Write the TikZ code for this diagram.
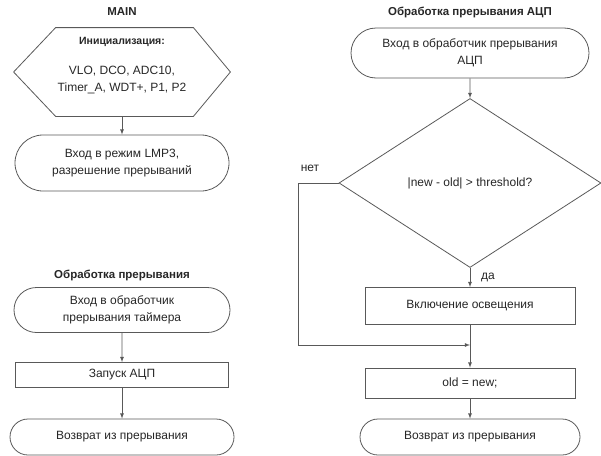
\documentclass[tikz,border=0pt]{standalone}
\usepackage{fontspec}
\setmainfont{Liberation Sans}
\usetikzlibrary{shapes.misc,shapes.geometric}

\def\lw{0.8pt}

\begin{document}
\begin{tikzpicture}[x=1pt,y=-1pt,>=latex,line width=\lw,
	every node/.style={font=\fontsize{12}{16.5}\selectfont,text=black!85,align=center},
	term/.style={rounded rectangle,draw=black!65,inner sep=1pt},
	box/.style={rectangle,draw=black!65,inner sep=1pt},
	titel/.style={font=\fontsize{11.5}{13}\selectfont\bfseries},
	pfeil/.style={->,draw=black!65}]
\useasboundingbox (0,0) rectangle (601,455);

% linke Spalte: MAIN
\node[titel] (tmain) at (122,12) {MAIN};
\node[minimum width=216,minimum height=88,inner sep=0] (ini) at (122,72) {};
\draw[draw=black!65] (ini.west) -- ([xshift=42]ini.north west) -- ([xshift=-37]ini.north east)
	-- (ini.east) -- ([xshift=-37]ini.south east) -- ([xshift=42]ini.south west) -- cycle;
\node[font=\fontsize{10.5}{12}\selectfont\bfseries] (inititel) at (122,42) {Инициализация:};
\node (initxt) at (122,80) {VLO, DCO, ADC10,\\Timer\_A, WDT+, P1, P2};
\node[term,minimum width=216,minimum height=56] (lpm) at (122,163) {Вход в режим LMP3,\\разрешение прерываний};
\draw[pfeil] (ini.south) -- (lpm.north);

% linke Spalte: Timer
\node[titel] (ttimer) at (122,275) {Обработка прерывания};
\node[term,minimum width=218,minimum height=45] (tin) at (122,310) {Вход в обработчик\\прерывания таймера};
\node[box,minimum width=213,minimum height=25] (adc) at (122,375) {Запуск АЦП};
\node[term,minimum width=226,minimum height=36] (tout) at (122,437) {Возврат из прерывания};
\draw[pfeil] (tin) -- (adc);
\draw[pfeil] (adc) -- (tout);

% rechte Spalte: ADC
\node[titel] (tadc) at (470,12) {Обработка прерывания АЦП};
\node[term,minimum width=240,minimum height=50] (ain) at (470,53) {Вход в обработчик прерывания\\АЦП};
\node[diamond,draw=black!65,minimum width=262,minimum height=169,inner sep=0] (dia) at (470,183) {|new - old| > threshold?};
\node[box,minimum width=210,minimum height=37] (licht) at (470,306) {Включение освещения};
\node[box,minimum width=210,minimum height=30] (old) at (470,383) {old = new;};
\node[term,minimum width=222,minimum height=36] (aout) at (470,437) {Возврат из прерывания};
\coordinate (join) at (470,345);

\draw[pfeil] (ain) -- (dia);
\draw[pfeil] (dia) -- (licht);
\draw[pfeil] (licht) -- (old);
\draw[pfeil] (old) -- (aout);
\draw[pfeil] (dia.west) -- ++(-40,0) |- (join);

\node (ja) at (488,277) {да};
\node (nein) at (310,168) {нет};
\end{tikzpicture}
\end{document}
